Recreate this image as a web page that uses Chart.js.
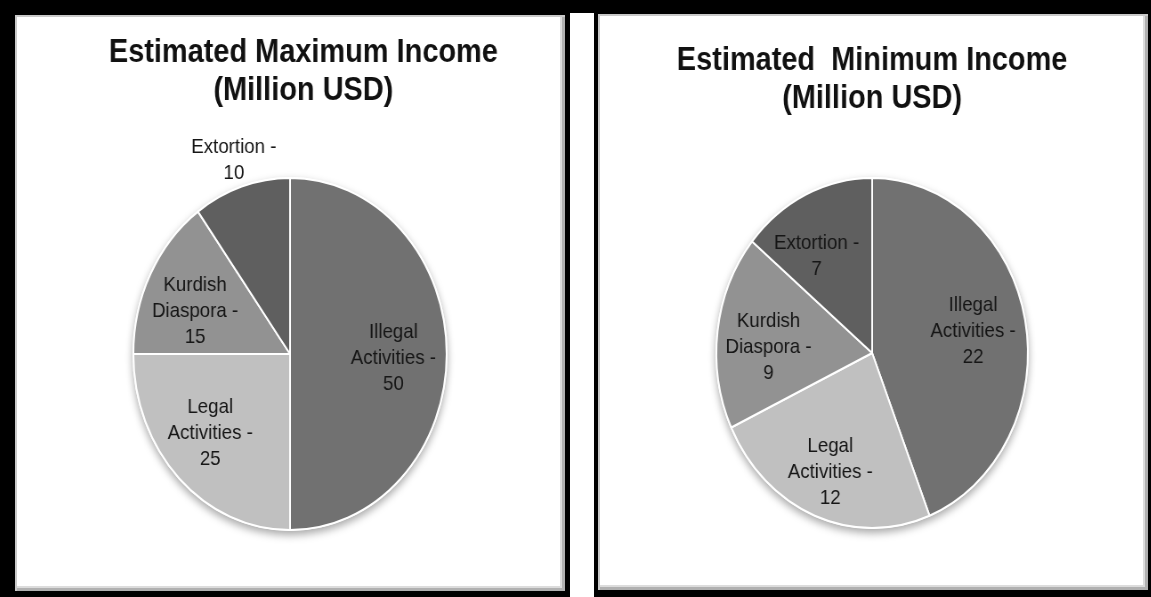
<!DOCTYPE html>
<html>
<head>
<meta charset="utf-8">
<script src="https://cdn.jsdelivr.net/npm/chart.js@4/dist/chart.umd.min.js"></script>
<style>
  html, body { margin: 0; padding: 0; }
  body { width: 1151px; height: 597px; background: #000; position: relative; overflow: hidden; }
  .panel { position: absolute; background: #fff; box-sizing: border-box; overflow: hidden;
           box-shadow: inset 2px 2px 0 #c9c9c9, inset -3px -3px 0 #b0b0b0, inset -5px -5px 0 #dcdcdc; }
  .gap { position: absolute; background: #fff; }
  .squeeze { position: absolute; left: 0; top: 0; transform: scaleX(0.89); transform-origin: 0 0; }
</style>
</head>
<body>
<div class="panel" style="left:15px; top:15px; width:550px; height:576px;">
  <div class="squeeze"><canvas id="maxChart" width="618" height="576"></canvas></div>
</div>
<div class="gap" style="left:570px; top:13px; width:24px; height:584px;"></div>
<div class="panel" style="left:598px; top:14px; width:550px; height:576px;">
  <div class="squeeze"><canvas id="minChart" width="618" height="576"></canvas></div>
</div>
<script>
// Income sources, clockwise from 12 o'clock
const categories = [['Illegal', 'Activities'], ['Legal', 'Activities'], ['Kurdish', 'Diaspora'], ['Extortion']];
const maxIncome = [50, 25, 15, 10];
const minIncome = [22, 12, 9, 7];
const sliceColors = ['#717171', '#c0c0c0', '#929292', '#5f5f5f'];
const maxTitle = ['Estimated Maximum Income', '(Million USD)'];
const minTitle = ['Estimated  Minimum Income', '(Million USD)'];

const FONT = '"Liberation Sans", Arial, Helvetica, sans-serif';

// Soft drop shadow under the whole pie
const pieShadow = {
  id: 'pieShadow',
  beforeDatasetsDraw(chart) {
    const arc = chart.getDatasetMeta(0).data[0];
    if (!arc) return;
    const ctx = chart.ctx;
    ctx.save();
    ctx.shadowColor = 'rgba(0,0,0,0.35)';
    ctx.shadowBlur = 9;
    ctx.shadowOffsetY = 4;
    ctx.fillStyle = '#ffffff';
    ctx.beginPath();
    ctx.arc(arc.x, arc.y, arc.outerRadius + 1, 0, Math.PI * 2);
    ctx.fill();
    ctx.restore();
  }
};

// Two-line heading drawn above the pie
const panelTitle = {
  id: 'panelTitle',
  afterDraw(chart, args, opts) {
    const ctx = chart.ctx;
    ctx.save();
    ctx.font = 'bold ' + opts.size + 'px ' + FONT;
    ctx.fillStyle = '#111';
    ctx.textAlign = 'center';
    ctx.textBaseline = 'middle';
    opts.lines.forEach((t, i) => ctx.fillText(t, opts.x, opts.y + i * opts.lineHeight));
    ctx.restore();
  }
};

// "Name -\nvalue" labels placed along each slice's bisector
const sliceLabels = {
  id: 'sliceLabels',
  afterDatasetsDraw(chart, args, opts) {
    const ctx = chart.ctx;
    const meta = chart.getDatasetMeta(0);
    const values = chart.data.datasets[0].data;
    ctx.save();
    ctx.font = opts.size + 'px ' + FONT;
    ctx.fillStyle = '#161616';
    ctx.textAlign = 'center';
    ctx.textBaseline = 'middle';
    meta.data.forEach((arc, i) => {
      const name = categories[i].slice();
      name[name.length - 1] += ' -';
      const lines = name.concat([String(values[i])]);
      const mid = (arc.startAngle + arc.endAngle) / 2;
      const r = arc.outerRadius * opts.radius[i];
      const nudge = opts.nudge[i] || [0, 0];
      const cx = arc.x + Math.cos(mid) * r + nudge[0];
      const cy = arc.y + Math.sin(mid) * r + nudge[1];
      const top = cy - (lines.length - 1) * opts.lineHeight / 2;
      lines.forEach((t, k) => ctx.fillText(t, cx, top + k * opts.lineHeight));
    });
    ctx.restore();
  }
};

function makePie(id, values, title, layoutPad, titleOpts, labelOpts) {
  return new Chart(document.getElementById(id), {
    type: 'pie',
    data: {
      labels: categories.map(c => c.join(' ')),
      datasets: [{
        data: values,
        backgroundColor: sliceColors,
        borderColor: '#ffffff',
        borderWidth: 2
      }]
    },
    options: {
      responsive: false,
      animation: false,
      layout: { padding: layoutPad },
      plugins: {
        legend: { display: false },
        tooltip: { enabled: false },
        title: { display: false },
        panelTitle: Object.assign({ lines: title, size: 32.5, lineHeight: 38 }, titleOpts),
        sliceLabels: Object.assign({ size: 21, lineHeight: 26 }, labelOpts)
      }
    },
    plugins: [pieShadow, sliceLabels, panelTitle]
  });
}

makePie('maxChart', maxIncome, maxTitle,
  { left: 132, right: 132, top: 162, bottom: 60 },
  { x: 324, y: 38 },
  { radius: [0.66, 0.68, 0.68, 1.16], nudge: [[0, 4], [-5, -5], [0, 12], [0, 0]] });

makePie('minChart', minIncome, minTitle,
  { left: 132, right: 134, top: 163, bottom: 61 },
  { x: 308, y: 47 },
  { radius: [0.66, 0.73, 0.67, 0.65], nudge: [[0, 0], [0, 0], [0, 9], [-14, 6]] });
</script>
</body>
</html>
